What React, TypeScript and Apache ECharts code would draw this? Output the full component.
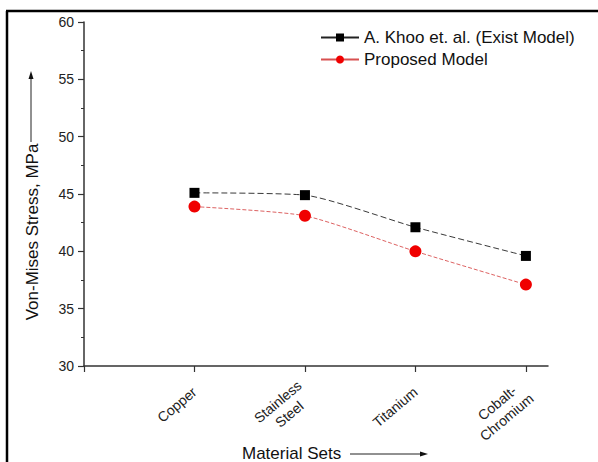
import React, { useEffect, useRef } from "react";
import * as echarts from "echarts";

const categories = ["Copper", "Stainless\nSteel", "Titanium", "Cobalt-\nChromium"];
const categoryPositions = [1, 2, 3, 4];
const khooValues = [45.1, 44.9, 42.1, 39.6];
const proposedValues = [43.9, 43.1, 40.0, 37.1];
const seriesNames = ["A. Khoo et. al. (Exist Model)", "Proposed Model"];
const yTitle = "Von-Mises Stress, MPa";
const xTitle = "Material Sets";

const FONT = "'Liberation Sans', Arial, sans-serif";
const LABEL_SIZE = 14;

export default function App() {
  const ref = useRef<HTMLDivElement>(null);
  useEffect(() => {
    if (!ref.current) return;
    const chart = echarts.init(ref.current, null, { renderer: "svg" });
    const ctx = document.createElement("canvas").getContext("2d");
    const measure = (s: string) => {
      if (!ctx) return s.length * 7;
      ctx.font = `${LABEL_SIZE}px ${FONT}`;
      return ctx.measureText(s).width;
    };
    const NBSP = "\u00a0";
    const nbspW = measure(NBSP) || 3.9;
    // centre the lines of multi-line labels (right-aligned block)
    const labelTexts = categories.map((c) => {
      const lines = c.split("\n");
      const widths = lines.map(measure);
      const maxW = Math.max(...widths);
      return lines
        .map((s, i) => s + NBSP.repeat(Math.round((maxW - widths[i]) / 2 / nbspW)))
        .join("\n");
    });
    const option: any = {
      animation: false,
      backgroundColor: "#ffffff",
      textStyle: { fontFamily: FONT },
      grid: { left: 84, top: 22, right: 50, bottom: 96 },
      legend: {
        left: 320,
        top: 29,
        padding: 0,
        orient: "vertical",
        itemWidth: 38,
        itemHeight: 10,
        itemGap: 5,
        textStyle: { fontSize: 17, color: "#111", fontFamily: FONT },
        lineStyle: { type: "solid" },
        data: seriesNames,
      },
      xAxis: {
        type: "value",
        min: 0,
        max: 4.2,
        interval: 1,
        splitLine: { show: false },
        axisLine: { show: true, lineStyle: { color: "#333", width: 1.5 } },
        axisTick: {
          show: true,
          length: 6,
          customValues: [0, 1, 2, 3, 4],
          lineStyle: { color: "#333", width: 1.2 },
        },
        axisLabel: {
          customValues: categoryPositions,
          formatter: (v: number) => labelTexts[Math.round(v) - 1] || "",
          rotate: 40,
          margin: 24,
          fontSize: LABEL_SIZE,
          color: "#222",
          fontFamily: FONT,
          lineHeight: 17,
        },
      },
      yAxis: {
        type: "value",
        min: 30,
        max: 60,
        interval: 5,
        splitLine: { show: false },
        axisLine: { show: true, lineStyle: { color: "#333", width: 1.5 } },
        axisTick: { show: true, length: 6, lineStyle: { color: "#333", width: 1.2 } },
        minorTick: { show: true, splitNumber: 2, length: 3, lineStyle: { color: "#333", width: 1 } },
        axisLabel: { fontSize: 14, color: "#222", margin: 10, fontFamily: FONT },
      },
      series: [
        {
          name: seriesNames[0],
          type: "line",
          smooth: 0.2,
          data: categoryPositions.map((x, i) => [x, khooValues[i]]),
          symbol: "rect",
          symbolSize: 10,
          itemStyle: { color: "#000" },
          lineStyle: { color: "#222", width: 0.9, type: [6, 3] },
        },
        {
          name: seriesNames[1],
          type: "line",
          smooth: 0.2,
          data: categoryPositions.map((x, i) => [x, proposedValues[i]]),
          symbol: "circle",
          symbolSize: 12,
          itemStyle: { color: "#f00000" },
          lineStyle: { color: "#d85050", width: 0.9, type: [4, 2] },
        },
      ],
      graphic: [
        { type: "line", shape: { x1: 6, y1: 11, x2: 598, y2: 11 }, style: { stroke: "#000", lineWidth: 2.5 } },
        { type: "line", shape: { x1: 7, y1: 11, x2: 7, y2: 462 }, style: { stroke: "#000", lineWidth: 2.5 } },
        {
          type: "text",
          x: 32,
          y: 232,
          rotation: Math.PI / 2,
          style: {
            text: yTitle,
            font: `17px ${FONT}`,
            fill: "#111",
            align: "center",
            verticalAlign: "middle",
          },
        },
        { type: "line", shape: { x1: 31, y1: 142, x2: 31, y2: 78 }, style: { stroke: "#222", lineWidth: 1 } },
        { type: "polygon", shape: { points: [[31, 71], [28.5, 79], [33.5, 79]] }, style: { fill: "#111" } },
        {
          type: "text",
          x: 242,
          y: 453,
          style: {
            text: xTitle,
            font: `17px ${FONT}`,
            fill: "#111",
            align: "left",
            verticalAlign: "middle",
          },
        },
        { type: "line", shape: { x1: 350, y1: 454, x2: 421, y2: 454 }, style: { stroke: "#222", lineWidth: 1 } },
        { type: "polygon", shape: { points: [[428, 454], [420, 451.5], [420, 456.5]] }, style: { fill: "#111" } },
      ],
    };
    chart.setOption(option);
    return () => chart.dispose();
  }, []);
  return (
    <div
      ref={ref}
      style={{ position: "absolute", left: 0, top: 0, width: 598, height: 462, background: "#fff" }}
    />
  );
}
